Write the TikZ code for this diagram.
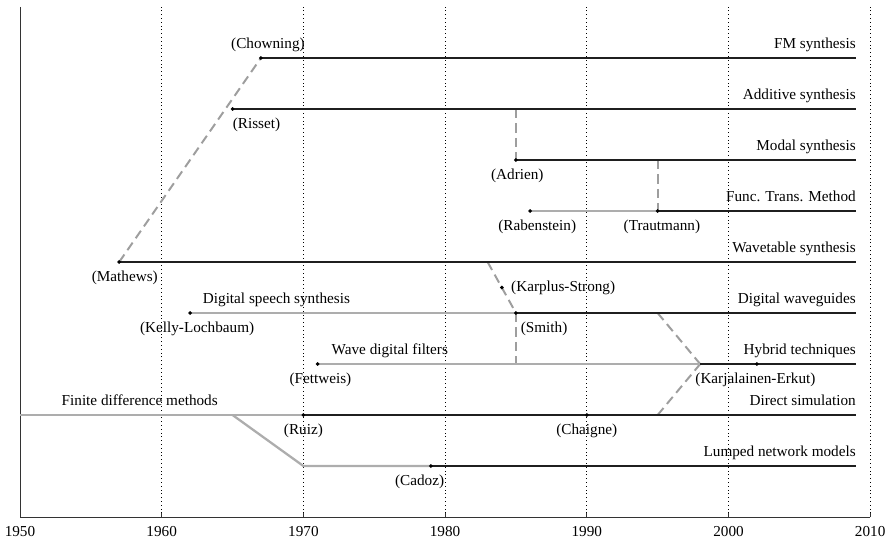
\documentclass[tikz,border=0pt]{standalone}
\usepackage{fontspec}
\setmainfont{Liberation Serif}
\usetikzlibrary{positioning}
\tikzstyle{active} = [line width=1.5pt, black!88]
\tikzstyle{precursor} = [line width=1.5pt, black!32]
\tikzstyle{influence} = [line width=1.3pt, black!38, dash pattern=on 6pt off 3.5pt]
\tikzstyle{decade} = [dotted, line width=0.5pt]
\tikzstyle{method} = [anchor=base east, inner sep=0pt, yshift=6.5pt]
\tikzstyle{family} = [anchor=base, inner sep=0pt, yshift=6.5pt]
\tikzstyle{author} = [anchor=base, inner sep=0pt, yshift=-12.8pt]

\begin{document}
\begin{tikzpicture}[x=0.3273cm, y=1.1781cm, font=\fontsize{10}{12}\selectfont]
    \useasboundingbox (-1.4114,-0.49) rectangle (61.186,10.137);
    % Grid and axis
    \foreach \yr in {1960,1970,...,2010}
        \draw[decade] ({\yr-1950},0) -- ({\yr-1950},10);
    \draw[black!80, line width=0.6pt] (0,10) -- (0,0) -- (60,0);
    \foreach \yr in {1960,1970,...,2010}
        \draw[black!80, line width=0.6pt] ({\yr-1950},0) -- ++(0,2.6pt);
    \foreach \yr in {1950,1960,...,2010}
        \node[anchor=north, yshift=-2.5pt] (yr\yr) at ({\yr-1950},0) {\yr};

    % Points
    \coordinate (chowning) at (17,9);
    \coordinate (risset) at (15,8);
    \coordinate (addfork) at (35,8);
    \coordinate (adrien) at (35,7);
    \coordinate (modalfork) at (45,7);
    \coordinate (rabenstein) at (36,6);
    \coordinate (trautmann) at (45,6);
    \coordinate (mathews) at (7,5);
    \coordinate (wtfork) at (33,5);
    \coordinate (karplus) at (34,4.5);
    \coordinate (kelly) at (12,4);
    \coordinate (smith) at (35,4);
    \coordinate (dwfork) at (45,4);
    \coordinate (fettweis) at (21,3);
    \coordinate (hyfork) at (35,3);
    \coordinate (hybrid) at (48,3);
    \coordinate (karjalainen) at (52,3);
    \coordinate (fdstart) at (0,2);
    \coordinate (fdfork) at (15,2);
    \coordinate (ruiz) at (20,2);
    \coordinate (chaigne) at (40,2);
    \coordinate (dsfork) at (45,2);
    \coordinate (lnbend) at (20,1);
    \coordinate (cadoz) at (29,1);
    \foreach \r/\n in {9/fm,8/add,7/modal,6/ftm,5/wt,4/dw,3/hy,2/ds,1/ln}
        \coordinate (end\n) at (59,\r);

    % Influences
    \draw[influence] (mathews) -- (chowning);
    \draw[influence] (addfork) -- (adrien);
    \draw[influence] (modalfork) -- (trautmann);
    \draw[influence] (wtfork) -- (smith);
    \draw[influence] (smith) -- (hyfork);
    \draw[influence] (dwfork) -- (hybrid);
    \draw[influence] (dsfork) -- (hybrid);

    % Lines
    \draw[active] (chowning) -- (endfm);
    \draw[active] (risset) -- (endadd);
    \draw[active] (adrien) -- (endmodal);
    \draw[precursor] (rabenstein) -- (trautmann);
    \draw[active] (trautmann) -- (endftm);
    \draw[active] (mathews) -- (endwt);
    \draw[precursor] (kelly) -- (smith);
    \draw[active] (smith) -- (enddw);
    \draw[precursor] (fettweis) -- (hybrid);
    \draw[active] (hybrid) -- (endhy);
    \draw[precursor] (fdstart) -- (ruiz);
    \draw[active] (ruiz) -- (endds);
    \draw[precursor] (fdfork) -- (lnbend) -- (cadoz);
    \draw[active] (cadoz) -- (endln);
    \foreach \p in {chowning,risset,adrien,rabenstein,trautmann,mathews,karplus,kelly,smith,fettweis,karjalainen,ruiz,chaigne,cadoz}
        \fill (\p) circle (1.3pt);

    % Methods
    \node[method] (fm) at (endfm) {FM synthesis};
    \node[method] (add) at (endadd) {Additive synthesis};
    \node[method] (modal) at (endmodal) {Modal synthesis};
    \node[method] (ftm) at (endftm) {Func. Trans. Method};
    \node[method] (wt) at (endwt) {Wavetable synthesis};
    \node[method] (dw) at (enddw) {Digital waveguides};
    \node[method] (hy) at (endhy) {Hybrid techniques};
    \node[method] (ds) at (endds) {Direct simulation};
    \node[method] (ln) at (endln) {Lumped network models};
    \node[family] (speech) at (18.1,4) {Digital speech synthesis};
    \node[family] (wdf) at (26.1,3) {Wave digital filters};
    \node[family] (fd) at (8.45,2) {Finite difference methods};

    % Authors
    \node[family] (lchowning) at (17.5,9) {(Chowning)};
    \node[author, anchor=base west] (lrisset) at (risset) {(Risset)};
    \node[author] (ladrien) at (35.1,7) {(Adrien)};
    \node[author] (lrabenstein) at (36.5,6) {(Rabenstein)};
    \node[author] (ltrautmann) at (45.3,6) {(Trautmann)};
    \node[author] (lmathews) at (7.4,5) {(Mathews)};
    \node[anchor=west, inner sep=0pt, xshift=6pt] (lkarplus) at (karplus) {(Karplus-Strong)};
    \node[author] (lkelly) at (12.5,4) {(Kelly-Lochbaum)};
    \node[author, anchor=base west, xshift=3pt] (lsmith) at (smith) {(Smith)};
    \node[author] (lfettweis) at (21.2,3) {(Fettweis)};
    \node[author] (lkarjalainen) at (51.9,3) {(Karjalainen-Erkut)};
    \node[author] (lruiz) at (20,2) {(Ruiz)};
    \node[author] (lchaigne) at (40,2) {(Chaigne)};
    \node[author] (lcadoz) at (28.2,1) {(Cadoz)};
\end{tikzpicture}
\end{document}
